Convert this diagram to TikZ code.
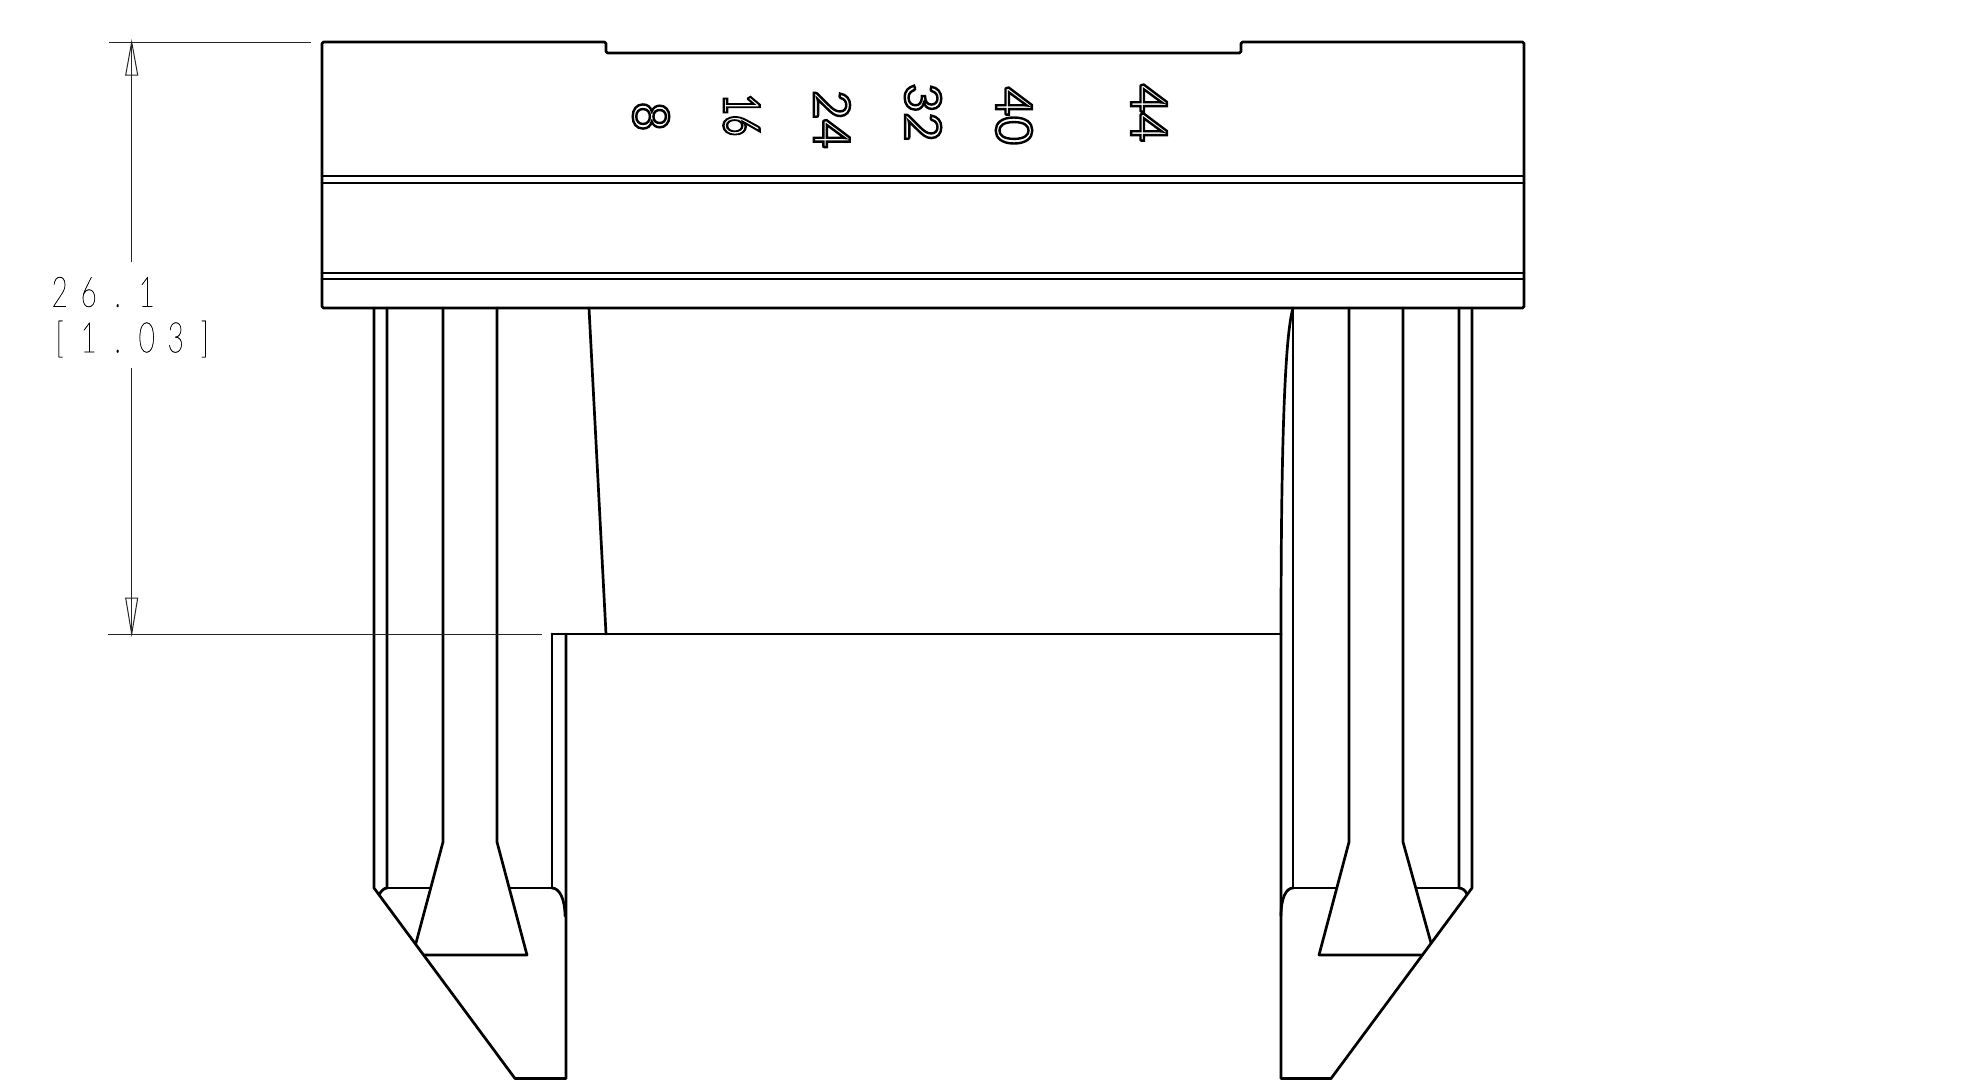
\documentclass[tikz,border=0pt]{standalone}
\usepackage{fontspec}
\usepackage{graphicx}
\newfontfamily\numfont{Lato}
\newfontfamily\dimfont{Lato Hairline}
\newcommand{\hollow}[1]{\special{pdf:code 1 Tr 2.4 w}#1\special{pdf:code 0 Tr 1 w}}
\newcommand{\dc}[1]{\makebox[29pt]{\scalebox{0.67}[1]{\special{pdf:code 2 Tr 0.35 w}#1\special{pdf:code 0 Tr 1 w}}}}
\tikzset{
  part/.style={line width=2.7pt,black,line join=round,line cap=round},
  dimline/.style={line width=1pt,black!85},
  numlabel/.style={inner sep=0pt,rotate=-90,font=\numfont\fontsize{50}{50}\selectfont},
  dimlabel/.style={inner sep=0pt,anchor=west,text=black,font=\dimfont\fontsize{42}{42}\selectfont}
}
\begin{document}
\begin{tikzpicture}[x=1pt,y=-1pt]
\useasboundingbox (0,0) rectangle (1972,1080);
% head
\draw[part,rounded corners=1.5pt] (322,42)--(606,42)--(606,53)--(1241,53)--(1241,42)--(1524,42)--(1524,308)--(322,308)--cycle;
\draw[part] (322,176)--(1524,176) (322,183)--(1524,183) (322,273)--(1524,273) (322,279)--(1524,279);
% left leg
\draw[part] (374,308)--(374,888)--(515,1078.5)--(566,1078.5)--(566,634);
\draw[part] (387,308)--(387,888) (443,308)--(443,842)--(416,943) (497,308)--(497,842)--(527,955)--(424,955);
\draw[part] (387,888)--(430,888) (510,888)--(552,888) (552,888)--(552,634);
\draw[part] (387,888) .. controls (384,888) and (381,891) .. (379,895);
\draw[part] (552,888) .. controls (559,888) and (565,898) .. (565,916);
\draw[part] (589,308)--(606,634);
\draw[part] (552,634)--(1281,634);
% right leg
\draw[part] (1472,308)--(1472,888)--(1331,1078.5)--(1281,1078.5)--(1281,634);
\draw[part] (1459,308)--(1459,888) (1403,308)--(1403,842)--(1431,943) (1349,308)--(1349,842)--(1319,955)--(1422,955);
\draw[part] (1293,308)--(1293,888)--(1336,888) (1416,888)--(1459,888);
\draw[part] (1459,888) .. controls (1462,888) and (1465,890) .. (1467,894);
\draw[part] (1293,888) .. controls (1286,888) and (1281,898) .. (1281,916);
\draw[part] (1293,308) .. controls (1285,335) and (1281,440) .. (1281,634);
% numbers
\node[numlabel] (n8)  at (651,116.5) {\hollow{8}};
\node[numlabel] (n16) at (741.5,115) {\scalebox{0.73}[1]{\hollow{16}}};
\node[numlabel] (n24) at (832,119.5) {\hollow{24}};
\node[numlabel] (n32) at (923,112.5) {\hollow{32}};
\node[numlabel] (n40) at (1014,116) {\hollow{40}};
\node[numlabel] (n44) at (1149,113) {\hollow{44}};
% dimension
\coordinate (et1) at (109,42); \coordinate (et2) at (311,42);
\coordinate (eb1) at (108,634); \coordinate (eb2) at (542,634);
\coordinate (tip1) at (131.7,42); \coordinate (base1) at (131.7,75);
\coordinate (tip2) at (131.7,634); \coordinate (base2) at (131.7,598);
\coordinate (gap1) at (131.7,262); \coordinate (gap2) at (131.7,368);
\draw[dimline] (et1)--(et2) (eb1)--(eb2) (base1)--(gap1) (gap2)--(base2);
\draw[dimline,line join=miter] (tip1)--(125.7,75)--(137.7,75)--cycle;
\draw[dimline,line join=miter] (tip2)--(125.7,598)--(137.7,598)--cycle;
\draw[dimline] (tip1)--(base1) (tip2)--(base2);
\node[dimlabel] (dimA) at (45,292) {\dc{2}\dc{6}\dc{.}\dc{1}};
\node[dimlabel] (dimB) at (45,339) {\dc{[}\dc{1}\dc{.}\dc{0}\dc{3}\dc{]}};
\end{tikzpicture}
\end{document}
